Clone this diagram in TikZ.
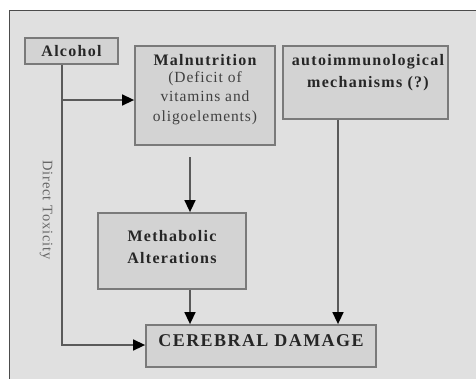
\documentclass[tikz,border=0pt]{standalone}
\usepackage{fontspec}
\setmainfont{Liberation Serif}
\newfontfamily\lblfont{Liberation Serif}[LetterSpace=8]
\newfontfamily\lblnfont{Liberation Serif}[LetterSpace=6]
\usetikzlibrary{arrows.meta}
\definecolor{bgc}{HTML}{E0E0E0}
\definecolor{boxc}{HTML}{D3D3D3}
\definecolor{linec}{HTML}{7A7A7A}
\definecolor{connc}{HTML}{5A5A5A}
\begin{document}
\begin{tikzpicture}[x=1pt,y=-1pt,
  boxs/.style={draw=linec,line width=1.8pt,fill=boxc,inner sep=0pt},
  lbl/.style={inner sep=0pt,align=center,text=black!85,
    font=\fontsize{16}{20}\lblfont\bfseries},
  lbln/.style={inner sep=0pt,align=center,text=black!75,
    font=\fontsize{15.5}{19.5}\lblnfont},
  conn/.style={draw=connc,line width=1.5pt,-{Triangle[length=12pt,width=11pt,fill=black,color=black]}}]
\useasboundingbox (0,0) rectangle (476,378);
\fill[white] (0,0) rectangle (476,378);
\draw[fill=bgc,draw=black!70,line width=0.8pt] (9,10) rectangle (480,382);
% boxes
\node[boxs,minimum width=93pt,minimum height=26pt] (alc) at (71.5,51) {};
\node[boxs,minimum width=140pt,minimum height=99pt] (mal) at (205,95.5) {};
\node[boxs,minimum width=165pt,minimum height=73pt] (auto) at (365.5,82.5) {};
\node[boxs,minimum width=148pt,minimum height=76pt] (met) at (172,251) {};
\node[boxs,minimum width=230pt,minimum height=42pt] (cer) at (261,346) {};
% texts
\node[lbl] (alct) at (71.5,51) {Alcohol};
\node[lbl,anchor=base] (malt) at (205,65) {Malnutrition};
\node[lbln,anchor=north] (malt2) at (205,71) {(Deficit of\\vitamins and\\oligoelements)};
\node[lbl,anchor=base] (autot1) at (368,65) {autoimmunological};
\node[lbl,anchor=base] (autot2) at (368,87) {mechanisms (?)};
\node[lbl,anchor=base] (mett1) at (172,241) {Methabolic};
\node[lbl,anchor=base] (mett2) at (172,263) {Alterations};
\node[lbl,anchor=base,font=\fontsize{18}{20}\lblfont\bfseries] (cert) at (261,346) {CEREBRAL DAMAGE};
\node[rotate=-90,font=\fontsize{14.5}{15}\lblnfont,text=black!60] (dt) at (46,210) {Direct Toxicity};
% connectors
\coordinate (a1) at (62,100);
\coordinate (a2) at (62,345);
\coordinate (m0) at (190,157);
\coordinate (x3) at (338,0);
\draw[conn] (alc.south -| a1) -- (a2) -- (a2 -| cer.west);
\draw[conn] (a1) -- (a1 -| mal.west);
\draw[conn] (m0) -- (m0 |- met.north);
\draw[conn] (met.south -| m0) -- (m0 |- cer.north);
\draw[conn] (auto.south -| x3) -- (cer.north -| x3);
\end{tikzpicture}
\end{document}
